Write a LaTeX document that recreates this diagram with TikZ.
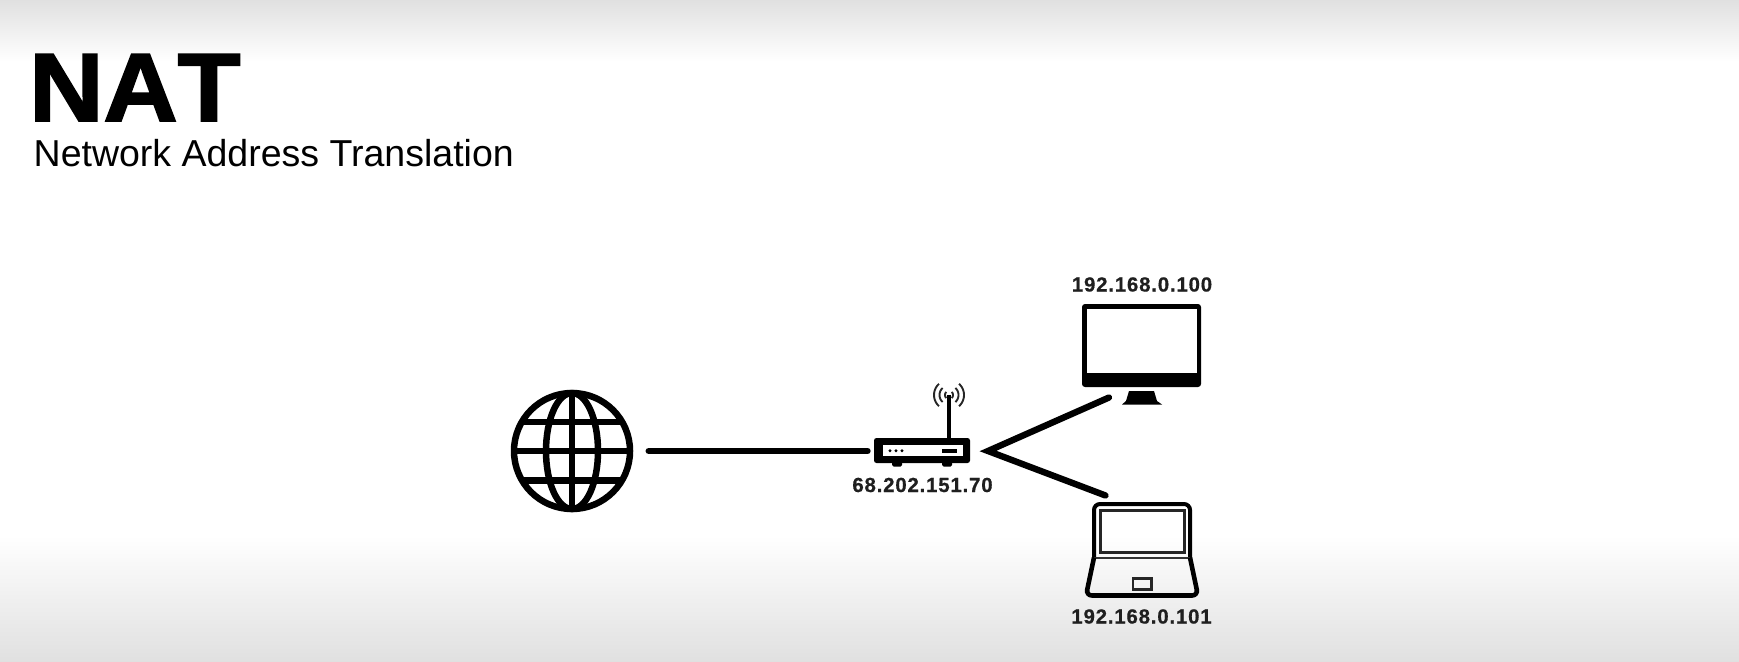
\documentclass[tikz,border=0pt]{standalone}
\usepackage{fontspec}
\setmainfont{Liberation Sans}
\newfontfamily\labelfont[LetterSpace=4,FakeBold=0.6]{Liberation Sans}
\newfontfamily\titlefont[Kerning=Off,FakeBold=2,FakeStretch=1.06]{Liberation Sans}
\tikzset{
  wire/.style={line width=6.4pt,line cap=round,line join=miter,miter limit=20},
  icon/.style={line width=6.5pt,black},
  anchorbox/.style={inner sep=0pt,outer sep=0pt},
  iplabel/.style={inner sep=0pt,font=\labelfont\bfseries\fontsize{20.4}{21}\selectfont,text=black!88,anchor=base}
}
\begin{document}
\begin{tikzpicture}[x=1pt,y=-1pt]
\useasboundingbox (0,0) rectangle (1739,661);
\shade[top color=black!12,bottom color=white] (0,0) rectangle (1739,62);
\shade[top color=white,bottom color=black!12] (0,535) rectangle (1739,661);
% titles
\node[inner sep=0pt,anchor=base west,font=\titlefont\bfseries\fontsize{97}{99}\selectfont] (title) at (29,121) {NAT};
\node[inner sep=0pt,anchor=base west,font=\fontsize{37.5}{38}\selectfont] (subtitle) at (33.5,166.7) {Network Address Translation};
% globe
\node[circle,anchorbox,minimum size=153.4pt] (globe) at (572,451) {};
\draw[icon] (572,451) circle[radius=58pt];
\draw[icon] (572,451) ellipse[x radius=26pt,y radius=58pt];
\draw[icon] (572,393) -- (572,509);
\draw[icon] (514,451) -- (630,451);
\draw[icon] (522,422) -- (622,422);
\draw[icon] (522,480.5) -- (622,480.5);
% router
\node[rectangle,anchorbox,minimum width=109pt,minimum height=40pt] (router) at (922,451) {};
\fill[black,rounded corners=2.5pt] (874,438) rectangle (970,463);
\fill[white] (882.5,445) rectangle (962.5,456);
\fill[black,rounded corners=1.5pt] (892,460) rectangle (902,466.5);
\fill[black,rounded corners=1.5pt] (942,460) rectangle (952,466.5);
\foreach \dx in {890,896,902} \fill[black] (\dx,450.7) circle[radius=1.6pt];
\fill[black] (942,449) rectangle (957,453);
\draw[line width=3.2pt,black] (949,395) -- (949,439);
\foreach \r in {4,9.5,15} {
  \draw[line width=1.9pt,black!85] plot[domain=-48:48,samples=13] ({949+\r*cos(\x)},{395+\r*sin(\x)});
  \draw[line width=1.9pt,black!85] plot[domain=132:228,samples=13] ({949+\r*cos(\x)},{395+\r*sin(\x)});
}
\node[iplabel] (routerip) at (922.5,492) {68.202.151.70};
% connectors
\draw[wire] (globe) -- (router);
\coordinate (fork) at (988,451);
\coordinate (monitorend) at (1109,397.5);
\coordinate (laptopend) at (1105.5,495.5);
\draw[wire] (monitorend) -- (fork) -- (laptopend);
% monitor
\node[iplabel] (monitorip) at (1142,291.5) {192.168.0.100};
\fill[black,rounded corners=3pt] (1082,304) rectangle (1201,387);
\fill[white] (1087,309) rectangle (1197,373);
\fill[black] (1129,391) -- (1154,391) -- (1157,401) -- (1162,404.5) -- (1122,404.5) -- (1126,401) -- cycle;
% laptop
\draw[line width=4pt,black,rounded corners=6pt] (1094,558) -- (1094,504) -- (1190,504) -- (1190,558);
\draw[line width=2.4pt,black!85] (1100.5,510.5) rectangle (1184.5,552.5);
\draw[line width=2pt,black!80] (1094,557.5) -- (1190,557.5);
\draw[line width=4.6pt,black,rounded corners=6pt] (1094,557.5) -- (1086,595.5) -- (1198,595.5) -- (1190,557.5);
\draw[line width=2.6pt,black!85] (1133,578.5) rectangle (1151.5,589.5);
\node[iplabel] (laptopip) at (1141.5,623.5) {192.168.0.101};
\end{tikzpicture}
\end{document}
